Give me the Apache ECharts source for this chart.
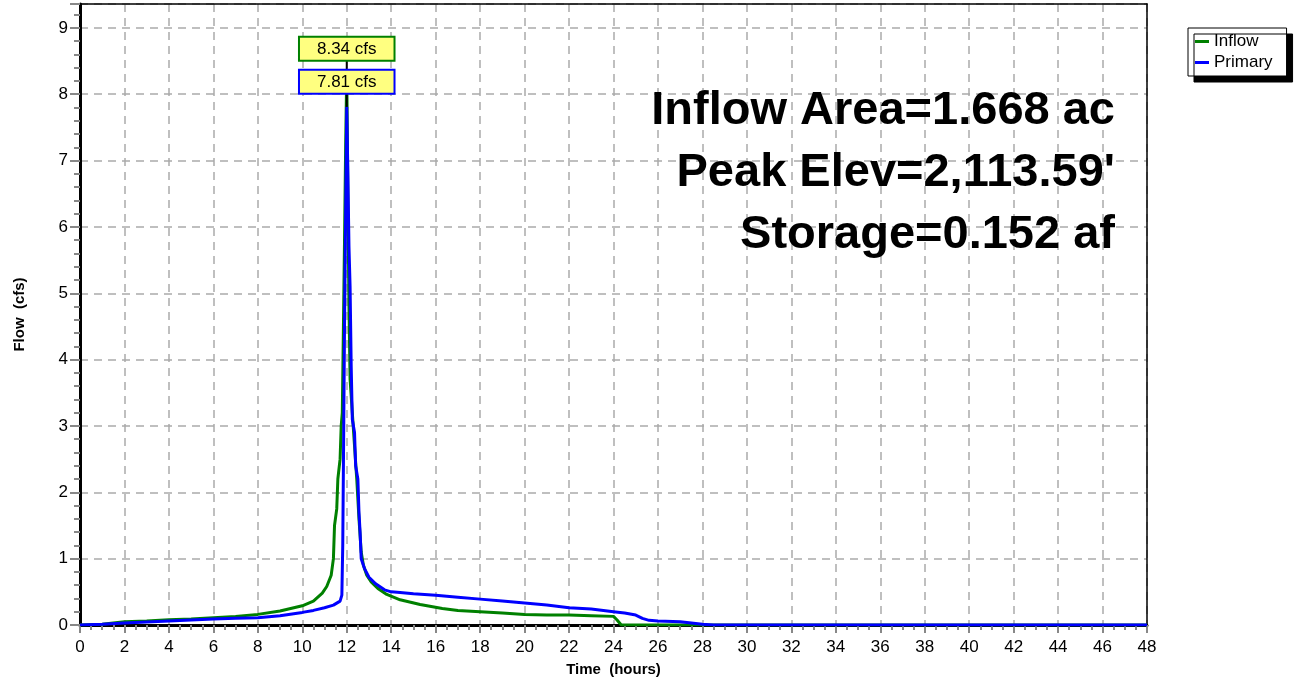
<!DOCTYPE html>
<html>
<head>
<meta charset="utf-8">
<script src="https://cdn.jsdelivr.net/npm/echarts@6/dist/echarts.min.js"></script>
<style>
html,body{margin:0;padding:0;background:#fff;}
#chart{width:1294px;height:682px;}
</style>
</head>
<body>
<div id="chart"></div>
<script>
// ---- data ----
var inflowTime  = [0, 1, 2, 3, 4, 5, 6, 7, 8, 9, 10, 10.5, 10.9, 11.1, 11.3, 11.4, 11.45, 11.55, 11.6, 11.7, 11.75, 11.8, 11.85, 11.9, 11.95, 12.0, 12.05, 12.1, 12.15, 12.25, 12.35, 12.45, 12.55, 12.65, 12.75, 12.9, 13.1, 13.4, 13.8, 14.4, 15.3, 16.3, 17, 18, 19, 20, 21, 22, 23, 24, 24.15, 24.35, 48];
var inflowFlow  = [0, 0.01, 0.05, 0.06, 0.08, 0.09, 0.11, 0.13, 0.16, 0.21, 0.29, 0.36, 0.48, 0.58, 0.75, 1.0, 1.5, 1.75, 2.2, 2.5, 3.0, 3.2, 4.5, 5.8, 7.2, 8.34, 6.5, 4.8, 3.7, 3.2, 2.7, 2.2, 1.6, 1.1, 0.9, 0.75, 0.65, 0.55, 0.46, 0.38, 0.31, 0.25, 0.22, 0.2, 0.18, 0.16, 0.15, 0.15, 0.14, 0.13, 0.08, 0, 0];
var primaryTime = [0, 1, 2, 3, 4, 5, 6, 7, 8, 9, 10, 10.5, 11, 11.4, 11.7, 11.78, 11.82, 11.86, 11.9, 11.95, 12.0, 12.05, 12.1, 12.15, 12.2, 12.25, 12.35, 12.4, 12.5, 12.55, 12.6, 12.65, 12.8, 13.0, 13.3, 13.7, 14.0, 14.4, 15, 16, 17, 18, 19, 20, 21, 22, 23, 24, 24.5, 25, 25.3, 25.6, 26, 27, 27.5, 28, 28.5, 48];
var primaryFlow = [0, 0.01, 0.03, 0.045, 0.06, 0.075, 0.09, 0.1, 0.11, 0.14, 0.19, 0.22, 0.26, 0.3, 0.36, 0.45, 1.2, 2.8, 4.5, 6.2, 7.81, 6.8, 5.7, 5.1, 3.9, 3.1, 2.9, 2.4, 2.2, 1.7, 1.4, 1.0, 0.85, 0.72, 0.62, 0.53, 0.5, 0.49, 0.47, 0.45, 0.42, 0.39, 0.36, 0.33, 0.3, 0.26, 0.24, 0.2, 0.18, 0.15, 0.1, 0.07, 0.06, 0.05, 0.03, 0.01, 0, 0];
var seriesNames = ['Inflow', 'Primary'];
var peakLabels = ['8.34 cfs', '7.81 cfs'];
var peakPoints = [[12.0, 8.34], [12.0, 7.81]];
var annotation = ['Inflow Area=1.668 ac', "Peak Elev=2,113.59'", 'Storage=0.152 af'];
var xTickLabels = [0,2,4,6,8,10,12,14,16,18,20,22,24,26,28,30,32,34,36,38,40,42,44,46,48];
var yTickLabels = [0,1,2,3,4,5,6,7,8,9];

function zip(a, b){ var r=[]; for (var i=0;i<a.length;i++) r.push([a[i], b[i]]); return r; }

var FONT = '"Liberation Sans", Arial, sans-serif';
var chart = echarts.init(document.getElementById('chart'), null, {renderer:'canvas'});

function peakMark(idx, color, stemLen){
  return {
    symbol: 'rect',
    symbolSize: [2, stemLen],
    symbolOffset: [0, -stemLen/2],
    itemStyle: {color: '#000'},
    z: 20 + idx,
    label: {
      show: true, position: 'top', distance: 0,
      formatter: peakLabels[idx],
      backgroundColor: '#ffff80', borderColor: color, borderWidth: 2,
      padding: [3, 17, 2, 17], color: '#000', fontSize: 17, fontFamily: FONT
    },
    data: [{coord: peakPoints[idx]}]
  };
}

var titles = annotation.map(function(t, i){
  return {
    text: t, right: 179, top: 80 + 62 * i, padding: 0,
    textStyle: {fontSize: 47, fontWeight: 'bold', color: '#000', lineHeight: 62, fontFamily: FONT}
  };
});

var option = {
  animation: false,
  backgroundColor: '#fff',
  textStyle: {fontFamily: FONT},
  title: titles,
  legend: {
    orient: 'vertical', left: 1188, top: 28,
    data: seriesNames,
    icon: 'rect', itemWidth: 14, itemHeight: 3, itemGap: 4,
    padding: [5, 14, 5, 7],
    backgroundColor: '#fff', borderColor: '#000', borderWidth: 1,
    shadowColor: '#000', shadowBlur: 0, shadowOffsetX: 6, shadowOffsetY: 6,
    textStyle: {fontSize: 17, color: '#000', fontFamily: FONT}
  },
  grid: {left: 80, right: 147, top: 4, bottom: 55, containLabel: false},
  xAxis: [{
    type: 'value', min: 0, max: 48, interval: 2,
    name: 'Time  (hours)', nameLocation: 'middle', nameGap: 37,
    nameTextStyle: {fontSize: 15, fontWeight: 'bold', color: '#000', fontFamily: FONT},
    axisLine: {show: true, onZero: false, lineStyle: {color: '#000', width: 3}},
    axisTick: {show: true, length: 8, lineStyle: {color: '#888', width: 2}},
    minorTick: {show: true, splitNumber: 4, length: 5, lineStyle: {color: '#888', width: 2}},
    axisLabel: {fontSize: 17, color: '#000', margin: 14, fontFamily: FONT,
      formatter: function(v){ return xTickLabels.indexOf(v) >= 0 ? String(v) : ''; }},
    splitLine: {show: true, lineStyle: {color: '#aaa', type: [8, 6], width: 1.5}}
  }, {
    type: 'value', min: 0, max: 48, position: 'top',
    axisLine: {show: true, onZero: false, lineStyle: {color: '#000', width: 1.5}},
    axisTick: {show: false}, axisLabel: {show: false}, splitLine: {show: false}
  }],
  yAxis: [{
    type: 'value', min: 0, max: 9.36, interval: 1,
    name: 'Flow  (cfs)', nameLocation: 'middle', nameGap: 53,
    nameTextStyle: {fontSize: 15, fontWeight: 'bold', color: '#000', fontFamily: FONT},
    axisLine: {show: true, onZero: false, lineStyle: {color: '#000', width: 3}},
    axisTick: {show: true, length: 10, lineStyle: {color: '#888', width: 2}},
    minorTick: {show: true, splitNumber: 5, length: 6, lineStyle: {color: '#888', width: 2}},
    axisLabel: {fontSize: 17, color: '#000', margin: 12, showMaxLabel: false, fontFamily: FONT,
      formatter: function(v){ return yTickLabels.indexOf(v) >= 0 ? String(v) : ''; }},
    splitLine: {show: true, lineStyle: {color: '#aaa', type: [8, 6], width: 1.5}}
  }, {
    type: 'value', min: 0, max: 9.36, position: 'right',
    axisLine: {show: true, onZero: false, lineStyle: {color: '#000', width: 1.5}},
    axisTick: {show: false}, axisLabel: {show: false}, splitLine: {show: false}
  }],
  series: [{
    name: seriesNames[0], type: 'line', data: zip(inflowTime, inflowFlow),
    showSymbol: false, symbol: 'none', clip: true,
    lineStyle: {color: '#008000', width: 3}, itemStyle: {color: '#008000'},
    z: 3,
    markPoint: peakMark(0, '#008000', 12)
  }, {
    name: seriesNames[1], type: 'line', data: zip(primaryTime, primaryFlow),
    showSymbol: false, symbol: 'none', clip: true,
    lineStyle: {color: '#0000ff', width: 3}, itemStyle: {color: '#0000ff'},
    z: 4,
    markPoint: peakMark(1, '#0000ff', 14)
  }]
};
chart.setOption(option);
</script>
</body>
</html>
